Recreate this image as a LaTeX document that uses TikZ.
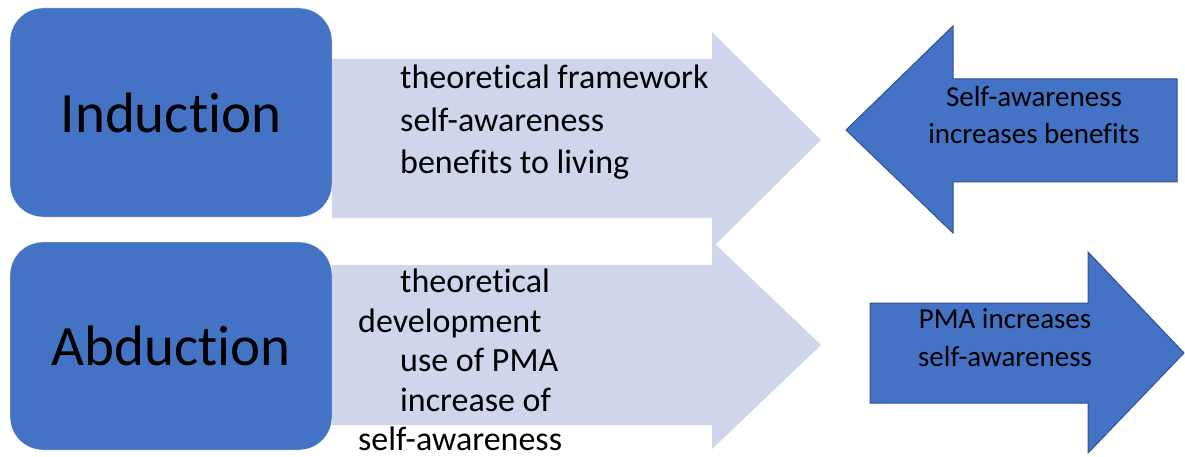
\documentclass[tikz,border=0pt]{standalone}
\usepackage{fontspec}
\setmainfont{Carlito}[Ligatures=NoCommon]
\definecolor{boxblue}{rgb}{0.267,0.447,0.769}
\definecolor{edgeblue}{rgb}{0.184,0.322,0.561}
\definecolor{liteblue}{rgb}{0.812,0.835,0.918}

\begin{document}
\begin{tikzpicture}[line join=miter,x=1pt,y=-1pt,
    roundbox/.style={draw=white,fill=boxblue,rounded corners=33pt},
    litearrow/.style={fill=liteblue},
    bluearrow/.style={draw=edgeblue,line width=1pt,fill=boxblue},
    bigtext/.style={inner sep=0pt,font=\fontsize{57}{68}\selectfont},
    listtext/.style={inner sep=0pt,anchor=west,align=left},
    arrowtext/.style={inner sep=0pt,align=center,font=\fontsize{29}{37}\selectfont}]
    \useasboundingbox (0,0) rectangle (1185,457);

    % pale arrows behind the boxes
    \fill[litearrow] (332,59) -- (712,59) -- (712,32) -- (821,140) -- (712,248) -- (712,218) -- (332,218) -- cycle;
    \fill[litearrow] (332,265) -- (712,265) -- (712,241) -- (821,345) -- (712,449) -- (712,425) -- (332,425) -- cycle;

    % the two methods
    \draw[roundbox] (10,8) rectangle (332,217);
    \draw[roundbox] (10,242) rectangle (332,450);
    \node[bigtext] (induction) at (171,112.5) {Induction};
    \node[bigtext] (abduction) at (171,346) {Abduction};

    \node[listtext,font=\fontsize{34}{42.5}\selectfont] (indlist) at (400,122.5)
        {theoretical framework\\self-awareness\\benefits to living};
    \node[listtext,font=\fontsize{34}{39.5}\selectfont] (abdlist) at (358,360)
        {\hspace*{42pt}theoretical\\development\\\hspace*{42pt}use of PMA\\\hspace*{42pt}increase of\\self-awareness};

    % findings
    \draw[bluearrow] (1177,79) -- (953,79) -- (953,26) -- (846,130) -- (953,233) -- (953,182) -- (1177,182) -- cycle;
    \draw[bluearrow] (870,303) -- (1088,303) -- (1088,252) -- (1184,353) -- (1088,453) -- (1088,403) -- (870,403) -- cycle;

    \node[arrowtext] (benefits) at (1034,115) {Self-awareness\\increases benefits};
    \node[arrowtext,font=\fontsize{29}{38}\selectfont] (pma) at (1005,338) {PMA increases\\self-awareness};
\end{tikzpicture}
\end{document}
